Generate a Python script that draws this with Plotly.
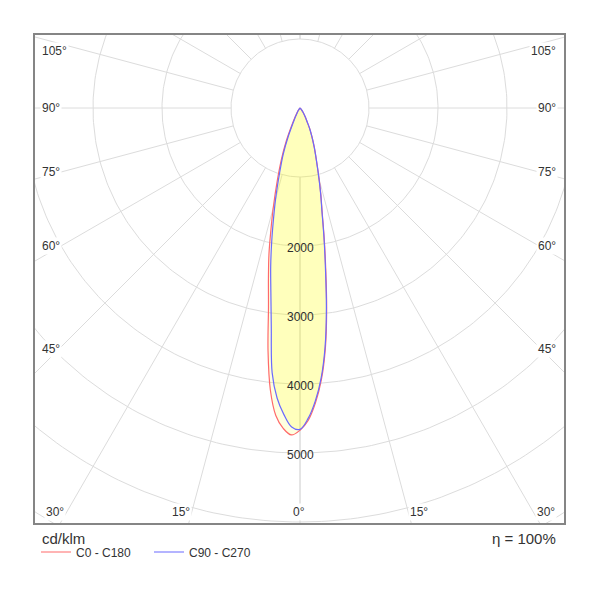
import numpy as np
import plotly.graph_objects as go

# luminous intensity (cd/klm), gamma = angle from nadir
gamma = [0, 1.5, 3, 4.5, 6, 7.5, 9, 10.5, 12, 13.5, 15, 17.5, 20, 22.5, 25,
         27.5, 30, 35, 40, 45, 50, 60, 75, 90]
c0 = [4670, 4530, 4280, 3950, 3510, 2960, 2390, 1925, 1545, 1295, 1075, 790,
      605, 455, 338, 222, 160, 80, 35, 12, 0, 0, 0, 0]
c180 = [4670, 4740, 4650, 4470, 4110, 3550, 2920, 2510, 2163, 1800, 1500, 1085,
        780, 525, 300, 180, 110, 50, 20, 0, 0, 0, 0, 0]
c90 = [4657, 4500, 4250, 3920, 3480, 2930, 2360, 1906, 1530, 1285, 1065, 785,
       600, 450, 335, 220, 160, 80, 35, 12, 0, 0, 0, 0]
c270 = [4657, 4625, 4450, 4220, 3860, 3190, 2700, 2330, 1970, 1640, 1370, 980,
        710, 440, 225, 140, 90, 40, 15, 0, 0, 0, 0, 0]

rings = [1000, 2000, 3000, 4000, 5000, 6000, 7000]
ring_labels = [2000, 3000, 4000, 5000]
spokes = [0, 15, 30, 45, 60, 75, 90, 105, 120, 135, 150, 165, 180]
side_labels = [105, 90, 75, 60, 45]
bottom_labels = [30, 15, 0, 15, 30]

# layout geometry, in screen pixels (page body adds an 8px offset)
W, H = 600, 600
OFF = 8
BOX = (35, 35, 564, 523)   # left, top, right, bottom of the frame on screen
CX, CY = 300, 108          # pole of the diagram on screen
S = 0.069                  # px per cd/klm
L, T = BOX[0] - OFF, BOX[1] - OFF
R, B = W - (BOX[2] - OFF), H - (BOX[3] - OFF)
pw, ph = W - L - R, H - T - B


def paper(px, py):
    return (px - BOX[0]) / pw, (BOX[3] - py) / ph


def curve(left, right):
    g = np.radians(gamma)
    lv, rv = np.array(left, float), np.array(right, float)
    x = np.concatenate([(-lv * np.sin(g))[::-1], (rv * np.sin(g))[1:]])
    y = np.concatenate([(-lv * np.cos(g))[::-1], (-rv * np.cos(g))[1:]])
    keep = [0] + [i for i in range(1, len(x)) if (x[i], y[i]) != (x[i - 1], y[i - 1])]
    return x[keep], y[keep]


# grid: rings and spokes
gx, gy = [], []
t = np.radians(np.linspace(0, 360, 361))
for r in rings:
    gx += list(r * np.sin(t)) + [None]
    gy += list(r * np.cos(t)) + [None]
for a in spokes:
    for sd in (-1, 1):
        ar = np.radians(a)
        gx += [sd * 1000 * np.sin(ar), sd * 9000 * np.sin(ar), None]
        gy += [-1000 * np.cos(ar), -9000 * np.cos(ar), None]

fig = go.Figure()
fig.add_trace(go.Scatter(x=gx, y=gy, mode="lines", line=dict(color="#dcdcdc", width=1),
                         hoverinfo="skip", showlegend=False))

rx, ry = curve(c180, c0)
bx, by = curve(c270, c90)
fig.add_trace(go.Scatter(x=rx, y=ry, mode="none", fill="toself",
                         fillcolor="rgba(255,255,0,0.12)", line_shape="spline",
                         showlegend=False, hoverinfo="skip"))
fig.add_trace(go.Scatter(x=bx, y=by, mode="none", fill="toself",
                         fillcolor="rgba(255,255,0,0.16)", line_shape="spline",
                         showlegend=False, hoverinfo="skip"))
fig.add_trace(go.Scatter(x=rx, y=ry, mode="lines", name="C0 - C180",
                         line=dict(color="#ff6a6a", width=1.2, shape="spline")))
fig.add_trace(go.Scatter(x=bx, y=by, mode="lines", name="C90 - C270",
                         line=dict(color="#6a6aff", width=1.2, shape="spline")))

font = "Liberation Sans, Arial, sans-serif"
txt = "#333333"
ann = []
for v in ring_labels:
    ann.append(dict(x=0, y=-v, xref="x", yref="y", text=str(v), showarrow=False,
                    xanchor="center", yanchor="middle", yshift=-2,
                    font=dict(size=12, color="#2e2e2e", family=font)))

side_y = [51, 108, 172, 246, 349]
for lab, py in zip(side_labels, side_y):
    xl, yl = paper(40, py)
    xr, _ = paper(558, py)
    ann.append(dict(x=xl, y=yl, xref="paper", yref="paper", text=f"{lab}°",
                    xanchor="left", yanchor="middle", showarrow=False,
                    bgcolor="white", borderpad=1,
                    font=dict(size=12, color=txt, family=font)))
    ann.append(dict(x=xr, y=yl, xref="paper", yref="paper", text=f"{lab}°",
                    xanchor="right", yanchor="middle", showarrow=False,
                    bgcolor="white", borderpad=1,
                    font=dict(size=12, color=txt, family=font)))

bottom_x = [55, 181, 299, 419, 546]
for lab, px in zip(bottom_labels, bottom_x):
    xp, yp = paper(px, 512)
    ann.append(dict(x=xp, y=yp, xref="paper", yref="paper", text=f"{lab}°",
                    xanchor="center", yanchor="middle", showarrow=False,
                    bgcolor="white", borderpad=1,
                    font=dict(size=12, color=txt, family=font)))

xp, yp = paper(40, 538)
ann.append(dict(x=xp, y=yp, xref="paper", yref="paper", text="cd/klm",
                xanchor="left", yanchor="middle", showarrow=False,
                font=dict(size=15, color=txt, family=font)))
xp, yp = paper(558, 538)
ann.append(dict(x=xp, y=yp, xref="paper", yref="paper", text="η = 100%",
                xanchor="right", yanchor="middle", showarrow=False,
                font=dict(size=15, color=txt, family=font)))

lx, ly = paper(36, 552)
fig.update_layout(
    width=W, height=H, autosize=False,
    margin=dict(l=L, r=R, t=T, b=B, pad=0),
    paper_bgcolor="white", plot_bgcolor="white",
    xaxis=dict(range=[(BOX[0] - CX) / S, (BOX[2] - CX) / S], showgrid=False,
               zeroline=False, showticklabels=False, ticks="", showline=True,
               mirror=True, linecolor="#858585", linewidth=1.5, fixedrange=True),
    yaxis=dict(range=[-(BOX[3] - CY) / S, (CY - BOX[1]) / S], showgrid=False,
               zeroline=False, showticklabels=False, ticks="", showline=True,
               mirror=True, linecolor="#858585", linewidth=1.5, fixedrange=True),
    legend=dict(orientation="h", x=lx, y=ly, xanchor="left", yanchor="middle",
                font=dict(size=12, color=txt, family=font),
                bgcolor="rgba(0,0,0,0)", entrywidth=68, entrywidthmode="pixels"),
    annotations=ann,
)

fig.write_html("out.html")
